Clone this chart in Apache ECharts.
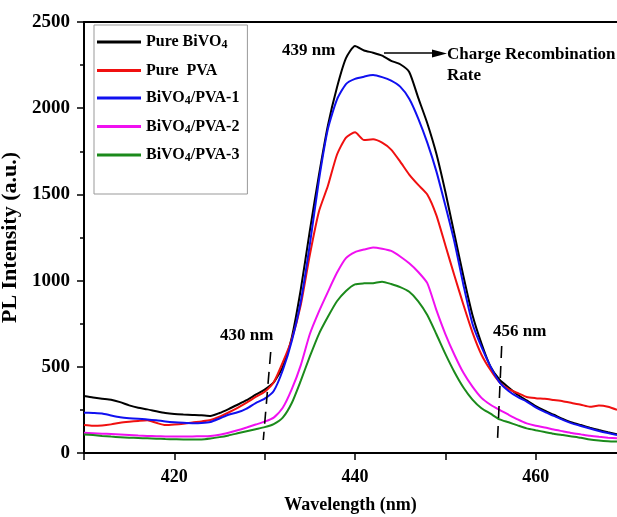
<!DOCTYPE html>
<html><head><meta charset="utf-8">
<script src="https://cdn.jsdelivr.net/npm/echarts@6/dist/echarts.min.js"></script>
<style>html,body{margin:0;padding:0;background:#fff}#c{width:617px;height:517px}</style>
</head><body><div id="c"></div>
<script>
const wavelengths = [410,411,412,413,414,415,416,417,418,419,420,421,422,423,424,425,426,427,428,429,430,431,432,433,434,435,436,437,438,439,440,441,442,443,444,445,446,447,448,449,450,451,452,453,454,455,456,457,458,459,460,461,462,463,464,465,466,467,468,469];
const pureBiVO4 = [331,322,315,309,295,276,262,253,242,232,226,223,221,219,215,232,255,280,306,338,368,410,500,670,950,1290,1610,1900,2120,2290,2361,2335,2322,2305,2275,2255,2210,2060,1913,1737,1515,1270,1025,800,635,500,425,380,338,305,272,245,222,198,177,162,147,133,120,108];
const purePVA = [162,158,160,166,175,181,186,190,175,162,165,170,177,183,191,210,235,262,292,325,355,410,525,660,860,1150,1400,1550,1730,1830,1860,1815,1820,1800,1760,1690,1615,1555,1500,1380,1205,1030,860,700,570,481,410,370,348,325,318,314,307,300,290,280,268,275,268,250];
const bivoPVA1 = [234,232,229,218,208,202,198,195,190,183,178,175,173,174,180,200,222,236,258,290,315,360,480,650,880,1210,1580,1880,2050,2140,2170,2183,2192,2180,2160,2125,2055,1940,1800,1635,1435,1225,975,750,615,501,410,360,325,298,265,238,215,192,172,157,142,128,116,105];
const bivoPVA2 = [118,115,112,110,107,104,101,99,97,96,95,95,96,97,99,106,118,132,148,165,182,205,262,370,510,690,820,935,1045,1130,1165,1180,1192,1185,1172,1140,1100,1050,985,830,690,570,465,385,320,280,250,222,195,172,158,148,136,126,116,108,100,94,89,85];
const bivoPVA3 = [108,104,99,95,92,89,87,85,83,81,80,79,79,79,84,92,102,114,126,138,150,168,205,290,420,560,690,790,880,940,978,984,985,994,980,962,935,880,800,690,575,470,380,310,260,228,195,178,160,143,132,122,112,104,96,88,78,72,68,66];
const seriesNames = ['Pure BiVO4','Pure  PVA','BiVO4/PVA-1','BiVO4/PVA-2','BiVO4/PVA-3'];
const seriesColors = ['#000000','#f01010','#1010f0','#f010f0','#1b8a1b'];
const yTicks = [0,500,1000,1500,2000,2500];

const FONT = 'Liberation Serif';
const chart = echarts.init(document.getElementById('c'), null, {renderer:'canvas'});
const allValues = [pureBiVO4, purePVA, bivoPVA1, bivoPVA2, bivoPVA3];
const series = allValues.map((vals, i) => ({
  name: seriesNames[i], type: 'line', symbol: 'none', showSymbol: false,
  smooth: 0.2,
  lineStyle: {width: 2, color: seriesColors[i]}, itemStyle: {color: seriesColors[i]},
  data: wavelengths.map((w, j) => [w, vals[j]]), z: 2
}));

const txt = (x, y, s, extra) => Object.assign({type:'text', x, y, style:{text:s, font:'bold 17px "'+FONT+'"', fill:'#000', verticalAlign:'middle', align:'left'}, z: 10}, extra||{});
const dashLine = (x1,y1,x2,y2) => ({type:'line', shape:{x1,y1,x2,y2}, style:{stroke:'#000', lineWidth:1.6, lineDash:[12,8]}, z:10});

chart.setOption({
  animation: false,
  backgroundColor: '#fff',
  grid: {left: 84, right: 0, top: 22, bottom: 64, containLabel: false, outerBoundsMode: 'none'},
  legend: {
    orient: 'vertical', left: 94, top: 25, icon: 'rect', itemWidth: 44, itemHeight: 3, itemGap: 11.5,
    padding: [9, 8, 30, 3], borderColor: '#999', borderWidth: 1, selectedMode: false,
    data: seriesNames,
    formatter: function (name) {
      return name.split('BiVO4').map(p => p ? '{m|' + p + '}' : '').join('{m|BiVO}{s|4}');
    },
    textStyle: {
      fontFamily: FONT, fontWeight: 'bold', fontSize: 16, color: '#000',
      rich: {
        m: {fontFamily: FONT, fontWeight: 'bold', fontSize: 16, lineHeight: 18, color: '#000'},
        s: {fontFamily: FONT, fontWeight: 'bold', fontSize: 12, lineHeight: 12, color: '#000', verticalAlign: 'bottom'}
      }
    }
  },
  xAxis: [{
    type: 'value', min: 410, max: 469, interval: 10,
    name: 'Wavelength (nm)', nameLocation: 'middle', nameGap: 43,
    nameTextStyle: {fontFamily: FONT, fontWeight: 'bold', fontSize: 18, color: '#000'},
    axisLine: {show: true, onZero: false, lineStyle: {color: '#000', width: 2}},
    axisTick: {show: true, length: 7, lineStyle: {color: '#000', width: 1.5}},
    axisLabel: {margin: 15, fontFamily: FONT, fontWeight: 'bold', fontSize: 18, color: '#000', showMaxLabel: false,
      formatter: v => (v % 20 === 0 ? String(v) : '')},
    splitLine: {show: false}
  }, {
    type: 'value', min: 410, max: 469, position: 'top',
    axisLine: {show: true, onZero: false, lineStyle: {color: '#000', width: 2}},
    axisTick: {show: false}, axisLabel: {show: false}, splitLine: {show: false}
  }],
  yAxis: {
    type: 'value', min: yTicks[0], max: yTicks[yTicks.length-1], interval: 500,
    name: 'PL Intensity (a.u.)', nameLocation: 'middle', nameGap: 63,
    nameTextStyle: {fontFamily: FONT, fontWeight: 'bold', fontSize: 22, color: '#000'},
    axisLine: {show: true, onZero: false, lineStyle: {color: '#000', width: 2}},
    axisTick: {show: true, length: 7, lineStyle: {color: '#000', width: 1.5}},
    minorTick: {show: true, splitNumber: 2, length: 4, lineStyle: {color: '#000', width: 1.5}},
    axisLabel: {margin: 14, fontFamily: FONT, fontWeight: 'bold', fontSize: 19, color: '#000',
      formatter: v => String(v)},
    splitLine: {show: false}
  },
  series: series,
  graphic: [
    txt(282, 51, '439 nm'),
    {type:'line', shape:{x1:384, y1:53, x2:436, y2:53}, style:{stroke:'#000', lineWidth:1.6}, z:10},
    {type:'polygon', shape:{points:[[447,53.5],[432,49.5],[432,57.5]]}, style:{fill:'#000'}, z:10},
    txt(447, 55, 'Charge Recombination'),
    txt(447, 76, 'Rate'),
    txt(220, 336, '430 nm'),
    txt(493, 332, '456 nm'),
    dashLine(270.7, 352, 263.3, 440),
    dashLine(501.7, 346, 497.3, 445)
  ]
});
</script>
</body></html>
